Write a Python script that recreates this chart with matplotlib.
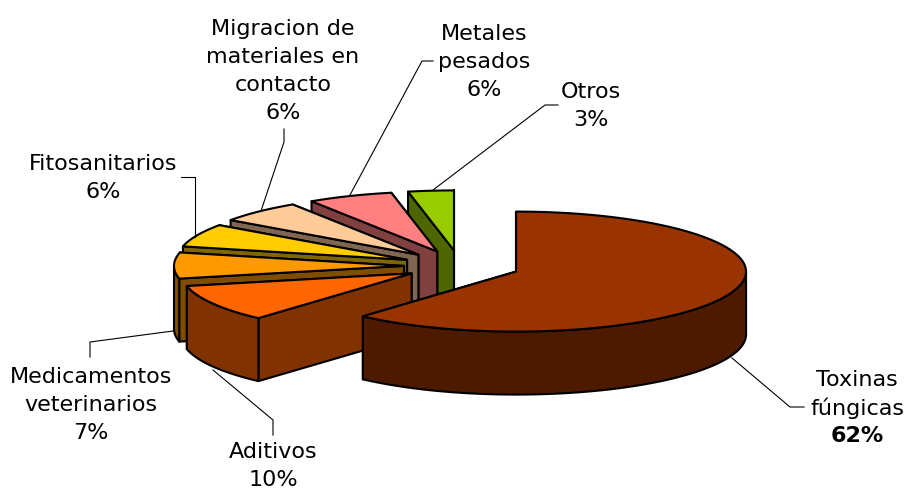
import numpy as np
import matplotlib
matplotlib.use("Agg")
import matplotlib.pyplot as plt
from matplotlib.patches import Polygon

# clockwise from 12 o'clock
names = ["Toxinas\nfúngicas", "Aditivos", "Medicamentos\nveterinarios", "Fitosanitarios",
         "Migracion de\nmateriales en\ncontacto", "Metales\npesados", "Otros"]
shares = [61.6, 10.0, 7.0, 6.2, 6.0, 6.0, 3.2]

top_colors = ["#993300", "#FF6600", "#FF9900", "#FFCC00", "#FFCC99", "#FF8080", "#99CC00"]
side_colors = ["#4D1A00", "#803300", "#804D00", "#806600", "#806650", "#804040", "#4D6600"]

# how far each slice is pulled out of the pie, pixels
explode = [60, 56, 56, 58, 60, 60, 60]

label_x = [857, 273, 91, 103, 283, 484, 591]
label_y = [408, 466, 405, 178, 71, 62, 106]

leaders = [
    ([804, 790, 732], [407, 407, 358]),
    ([273, 273, 213], [435, 420, 370]),
    ([90, 90, 173], [357, 342, 331]),
    ([181, 195, 195], [177, 177, 237]),
    ([284, 284, 261], [129, 142, 211]),
    ([433, 422, 350], [61, 61, 195]),
    ([558, 545, 433], [105, 105, 190]),
]

# pie layout in image pixels
cx, cy = 460, 266
rx, ry = 230, 60
depth = 63

fig = plt.figure(figsize=(9.05, 4.9), dpi=100)
ax = fig.add_axes([0, 0, 1, 1])
ax.set_xlim(0, 905)
ax.set_ylim(490, 0)
ax.axis("off")


def point(apex, theta):
    return apex[0] + rx * np.sin(theta), apex[1] - ry * np.cos(theta)


def patch(xs, ys, color):
    ax.add_patch(Polygon(np.column_stack([xs, ys]), closed=True, facecolor=color,
                         edgecolor="black", linewidth=1.5, joinstyle="round"))


def draw_slice(a0, a1, pull, top, side):
    mid = (a0 + a1) / 2
    apex = (cx + pull * np.sin(mid), cy - pull * (ry / rx) * np.cos(mid))

    # cut faces
    for a in (a1, a0):
        x, y = point(apex, a)
        patch([apex[0], x, x, apex[0]], [apex[1], y, y + depth, apex[1] + depth], side)

    # outer wall, only the part facing us
    t0 = max(a0, np.pi / 2)
    t1 = min(a1, 3 * np.pi / 2)
    if t1 > t0:
        t = np.linspace(t0, t1, 80)
        x, y = point(apex, t)
        patch(np.r_[x, x[::-1]], np.r_[y, y[::-1] + depth], side)

    t = np.linspace(a0, a1, 120)
    x, y = point(apex, t)
    patch(np.r_[apex[0], x], np.r_[apex[1], y], top)


edges = np.cumsum([0] + shares) / sum(shares) * 2 * np.pi

# back slices first, the big front slice last
for i in range(len(shares) - 1, -1, -1):
    draw_slice(edges[i], edges[i + 1], explode[i], top_colors[i], side_colors[i])

for xs, ys in leaders:
    ax.plot(xs, ys, color="black", lw=0.8)

for i, name in enumerate(names):
    lines = name.split("\n") + ["%d%%" % round(shares[i])]
    for j, line in enumerate(lines):
        bold = i == 0 and j == len(lines) - 1
        ax.text(label_x[i], label_y[i] + (j - (len(lines) - 1) / 2) * 28, line,
                ha="center", va="center", fontsize=16, color="black",
                family="DejaVu Sans", fontweight="bold" if bold else "normal")

fig.savefig("out.png", dpi=100)
